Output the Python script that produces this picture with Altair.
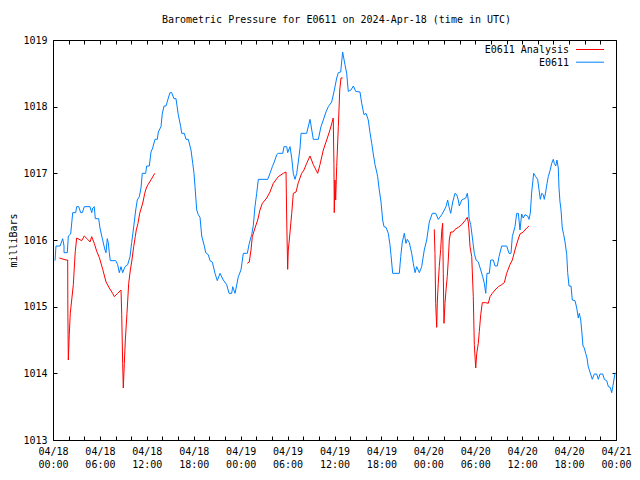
import altair as alt
import pandas as pd

# Hours since 2024-04-18 00:00 UTC and pressure (mbar)
blue_h = [0.26,0.38,0.90,1.24,1.41,1.41,1.83,1.96,2.26,2.52,
          2.90,3.03,3.29,3.54,3.75,4.00,4.73,4.95,5.08,5.28,
          5.41,5.84,6.01,6.31,6.65,6.78,6.94,7.07,7.20,7.33,
          8.02,8.27,8.48,8.70,8.91,9.21,9.55,9.85,10.06,10.27,
          10.58,10.78,11.04,11.25,11.42,11.85,11.98,12.32,12.53,12.75,
          13.04,13.34,13.47,13.81,13.98,14.20,14.45,14.75,14.96,15.18,
          15.47,15.73,16.02,16.33,16.46,16.79,17.01,17.30,17.65,17.87,
          18.03,18.16,18.38,18.58,18.80,19.02,19.35,19.53,19.86,20.08,
          20.37,20.72,21.01,21.36,21.78,22.21,22.51,22.85,22.98,23.28,
          23.70,24.04,24.34,24.85,25.10,25.41,25.62,25.83,26.05,26.26,
          27.46,27.75,28.05,28.30,28.61,28.81,29.38,29.54,29.89,30.01,
          30.31,30.53,30.73,30.95,31.17,31.37,31.59,31.72,32.44,32.87,
          33.29,33.93,34.27,34.57,34.91,35.21,35.64,35.98,36.28,36.49,
          36.79,37.04,37.34,37.56,37.76,38.11,38.41,38.71,39.26,39.48,
          39.77,40.03,40.32,40.54,40.76,40.96,41.18,41.40,41.52,41.69,
          41.95,42.16,42.33,42.59,42.88,43.09,43.22,43.44,44.29,44.47,
          44.67,44.93,45.14,45.31,45.57,45.87,46.08,46.30,46.51,46.85,
          47.15,47.48,47.79,48.12,48.51,48.94,49.28,49.71,50.04,50.26,
          50.47,50.64,50.86,51.12,51.41,51.63,51.83,51.96,52.27,52.78,
          52.98,53.11,53.20,53.42,53.67,53.88,54.10,54.39,54.70,54.95,
          55.16,55.34,55.50,55.80,55.98,56.31,56.53,56.82,57.04,57.38,
          58.02,58.32,58.57,58.74,59.08,59.30,59.51,59.72,59.94,60.14,
          60.36,60.70,60.87,61.04,61.22,61.47,61.73,61.98,62.15,62.32,
          62.50,62.70,62.83,63.01,63.18,63.34,63.56,63.78,63.98,64.11,
          64.29,64.45,64.62,64.71,64.84,64.97,65.13,65.31,65.48,65.70,
          65.82,65.99,66.25,66.41,66.76,66.98,67.18,67.31,67.49,67.61,
          67.78,67.94,68.12,68.29,68.45,68.67,68.97,69.22,69.53,69.74,
          69.95,70.30,70.51,70.81,71.02,71.27,71.45,71.65,71.87,72.00]

blue_v = [1015.69,1015.91,1015.91,1016.02,1015.91,1015.81,1015.81,1016.06,1016.09,1016.41,
          1016.41,1016.50,1016.50,1016.41,1016.41,1016.50,1016.50,1016.41,1016.48,1016.50,
          1016.32,1016.32,1016.18,1016.02,1015.85,1015.81,1016.02,1015.96,1015.81,1015.69,
          1015.69,1015.63,1015.51,1015.60,1015.51,1015.60,1015.63,1015.75,1015.96,1016.15,
          1016.45,1016.60,1016.65,1016.78,1017.00,1017.00,1017.11,1017.11,1017.32,1017.38,
          1017.51,1017.51,1017.62,1017.70,1017.90,1018.01,1018.01,1018.13,1018.21,1018.21,
          1018.12,1018.12,1017.88,1017.70,1017.60,1017.60,1017.51,1017.51,1017.35,1017.15,
          1017.00,1016.80,1016.45,1016.38,1016.34,1016.06,1015.91,1015.81,1015.78,1015.69,
          1015.67,1015.50,1015.39,1015.50,1015.40,1015.33,1015.20,1015.20,1015.30,1015.20,
          1015.45,1015.55,1015.80,1015.80,1015.95,1016.08,1016.22,1016.50,1016.70,1016.91,
          1016.91,1017.00,1017.10,1017.17,1017.28,1017.30,1017.30,1017.40,1017.40,1017.31,
          1017.40,1017.23,1017.00,1016.91,1017.00,1017.17,1017.38,1017.60,1017.60,1017.81,
          1017.51,1017.51,1017.70,1017.80,1017.92,1018.00,1018.07,1018.25,1018.43,1018.51,
          1018.52,1018.82,1018.63,1018.50,1018.23,1018.25,1018.31,1018.23,1018.22,1018.05,
          1017.88,1017.90,1017.80,1017.61,1017.45,1017.29,1017.13,1017.02,1016.95,1016.78,
          1016.57,1016.30,1016.20,1016.19,1016.10,1015.93,1015.78,1015.50,1015.50,1015.75,
          1015.97,1016.10,1015.95,1016.01,1015.96,1015.80,1015.65,1015.51,1015.60,1015.51,
          1015.60,1015.85,1016.00,1016.27,1016.40,1016.40,1016.31,1016.38,1016.45,1016.50,
          1016.60,1016.50,1016.40,1016.57,1016.70,1016.68,1016.60,1016.51,1016.60,1016.63,
          1016.70,1016.60,1016.33,1016.23,1016.00,1015.80,1015.70,1015.67,1015.55,1015.45,
          1015.35,1015.20,1015.50,1015.50,1015.70,1015.70,1015.61,1015.61,1015.75,1015.91,
          1015.91,1015.80,1015.80,1016.05,1016.20,1016.40,1016.40,1016.15,1016.39,1016.33,
          1016.38,1016.36,1016.31,1016.40,1016.72,1017.00,1016.95,1016.91,1016.76,1016.61,
          1016.70,1016.68,1016.61,1016.72,1016.85,1016.95,1017.04,1017.15,1017.21,1017.15,
          1017.11,1017.20,1017.08,1016.78,1016.57,1016.45,1016.18,1016.08,1015.97,1015.78,
          1015.51,1015.31,1015.31,1015.10,1015.09,1014.98,1014.83,1014.90,1014.80,1014.65,
          1014.41,1014.38,1014.30,1014.23,1014.10,1014.02,1013.91,1013.99,1013.99,1013.91,
          1013.99,1013.99,1013.91,1013.89,1013.80,1013.79,1013.71,1013.84,1014.00,1014.00]

red1_h = [0.81,1.66,1.88,1.90,1.96,2.08,2.21,2.39,2.60,2.72,2.85,3.03,3.67,4.00,4.44,4.73,
          4.95,5.28,5.59,5.92,6.36,6.78,7.20,7.63,7.84,8.27,8.70,8.79,8.91,8.99,9.12,9.25,
          9.46,9.68,9.89,10.06,10.32,10.52,10.65,10.87,11.09,11.29,11.51,11.73,11.93,12.15,
          12.57,13.01]
red1_v = [1015.73,1015.70,1015.70,1014.95,1014.20,1014.58,1014.90,1015.10,1015.33,1015.58,
          1015.83,1016.03,1015.99,1016.06,1016.01,1015.97,1016.05,1015.95,1015.83,1015.74,
          1015.56,1015.37,1015.28,1015.20,1015.15,1015.20,1015.25,1014.88,1014.15,1013.78,
          1014.15,1014.50,1014.90,1015.35,1015.55,1015.67,1015.90,1016.05,1016.15,1016.25,
          1016.40,1016.48,1016.57,1016.70,1016.78,1016.83,1016.91,1017.00]

red2_h = [24.85,25.10,25.32,25.49,25.83,26.18,26.47,26.77,27.33,27.75,28.17,28.81,29.45,
          29.80,29.89,30.01,30.09,30.22,30.53,30.73,31.08,31.37,31.80,32.10,32.44,32.87,
          33.29,33.85,34.14,34.57,35.00,35.42,35.84,35.93,35.97,36.06,36.15,36.28,36.49,
          36.67,36.83,37.05]
red2_v = [1015.65,1015.67,1015.85,1016.05,1016.18,1016.30,1016.45,1016.55,1016.63,1016.72,
          1016.85,1016.95,1017.00,1017.02,1016.30,1015.56,1015.85,1016.00,1016.40,1016.70,
          1016.72,1016.86,1017.00,1017.05,1017.15,1017.26,1017.13,1017.00,1017.13,1017.35,
          1017.50,1017.65,1017.83,1017.13,1016.41,1016.90,1016.60,1017.10,1017.70,1018.25,
          1018.43,1018.43]

red3_h = [48.76,48.85,48.94,49.07,49.15,49.27,49.40,49.58,49.71,49.83,49.91,50.00,50.13,
          50.26,50.42,50.55,50.68,50.86,51.19,51.41,51.83,52.27,52.69,52.98,53.11,53.20,
          53.33,53.55,53.75,53.88,54.06,54.19,54.39,54.52,54.70,54.90,55.34,55.67,55.89,
          56.18,56.53,56.95,57.38,57.72,58.02,58.44,58.74,59.08,59.38,59.72,60.14,60.58,
          60.87]
red3_v = [1016.16,1015.80,1015.05,1014.69,1015.07,1015.35,1015.60,1015.86,1016.13,1016.25,
          1015.50,1014.75,1015.05,1015.25,1015.45,1015.70,1016.00,1016.12,1016.12,1016.16,
          1016.19,1016.23,1016.29,1016.34,1016.27,1016.15,1015.90,1015.75,1015.15,1014.43,
          1014.08,1014.30,1014.45,1014.63,1014.88,1015.06,1015.06,1015.05,1015.15,1015.20,
          1015.25,1015.30,1015.33,1015.36,1015.50,1015.63,1015.70,1015.85,1015.97,1016.09,
          1016.12,1016.18,1016.21]

series_names = ["E0611 Analysis", "E0611"]
series_colors = ["#ff0000", "#0080ff"]
y_ticks = [1013, 1014, 1015, 1016, 1017, 1018, 1019]
x_ticks = list(range(0, 73, 2))
title_text = "Barometric Pressure for E0611 on 2024-Apr-18 (time in UTC)"

FONT = "DejaVu Sans Mono"
FS = 10
W, H = 563, 400

blue_df = pd.DataFrame({"h": blue_h, "p": blue_v})
red_df = pd.concat([
    pd.DataFrame({"h": red1_h, "p": red1_v, "seg": 1}),
    pd.DataFrame({"h": red2_h, "p": red2_v, "seg": 2}),
    pd.DataFrame({"h": red3_h, "p": red3_v, "seg": 3}),
], ignore_index=True)

xscale = alt.Scale(domain=[0, 72], nice=False, zero=False)
yscale = alt.Scale(domain=[1013, 1019], nice=False, zero=False)

label_expr = ("datum.value % 6 == 0 ? ['04/' + (18 + floor(datum.value / 24)), "
              "(datum.value % 24 < 10 ? '0' : '') + (datum.value % 24) + ':00'] : ''")

blue = alt.Chart(blue_df).mark_line(color=series_colors[1], strokeWidth=1).encode(
    x=alt.X("h:Q", scale=xscale, axis=alt.Axis(
        orient="bottom", offset=-4, tickSize=4, values=x_ticks, labelExpr=label_expr,
        labelLineHeight=13, labelPadding=6, labelOverlap=False, labelFlush=False,
        labelBaseline="top", title=None, domain=False, grid=False)),
    y=alt.Y("p:Q", scale=yscale, axis=alt.Axis(
        orient="left", offset=-4, tickSize=4, values=y_ticks, format="d",
        labelPadding=6, title="milliBars", titlePadding=4, domain=False, grid=False)),
)

red = alt.Chart(red_df).mark_line(color=series_colors[0], strokeWidth=1).encode(
    x=alt.X("h:Q", scale=xscale, axis=alt.Axis(
        orient="top", offset=-4, tickSize=4, values=x_ticks, labels=False,
        title=None, domain=False, grid=False)),
    y=alt.Y("p:Q", scale=yscale, axis=alt.Axis(
        orient="right", offset=-4, tickSize=4, values=y_ticks, labels=False,
        title=None, domain=False, grid=False)),
    detail="seg:N",
)

one = pd.DataFrame({"k": [0]})
title_layer = alt.Chart(one).mark_text(
    text=title_text, align="center", baseline="alphabetic",
    font=FONT, fontSize=FS, color="black").encode(
    x=alt.value(W / 2 + 2), y=alt.value(-17))

legend_layers = []
for i, (name, col) in enumerate(zip(series_names, series_colors)):
    yy = 10 + 12.7 * i
    legend_layers.append(
        alt.Chart(one).mark_text(text=name, align="right", baseline="middle",
                                 font=FONT, fontSize=FS, color="black").encode(
            x=alt.value(516), y=alt.value(yy)))
    legend_layers.append(
        alt.Chart(one).mark_rule(color=col, strokeWidth=1).encode(
            x=alt.value(523), x2=alt.value(551), y=alt.value(yy - 0.5)))

chart = alt.layer(blue, red, title_layer, *legend_layers).resolve_axis(
    x="independent", y="independent"
).properties(
    width=W, height=H,
    autosize=alt.AutoSizeParams(type="none"),
    padding={"left": 45, "top": 32, "right": 16, "bottom": 31},
).configure_view(
    stroke="black", strokeWidth=1
).configure_axis(
    labelFont=FONT, labelFontSize=FS, labelColor="black",
    titleFont=FONT, titleFontSize=FS, titleFontWeight="normal", titleColor="black",
    tickColor="black", tickWidth=1,
)

chart.save("out.html", embed_options={"renderer": "svg", "actions": False})
